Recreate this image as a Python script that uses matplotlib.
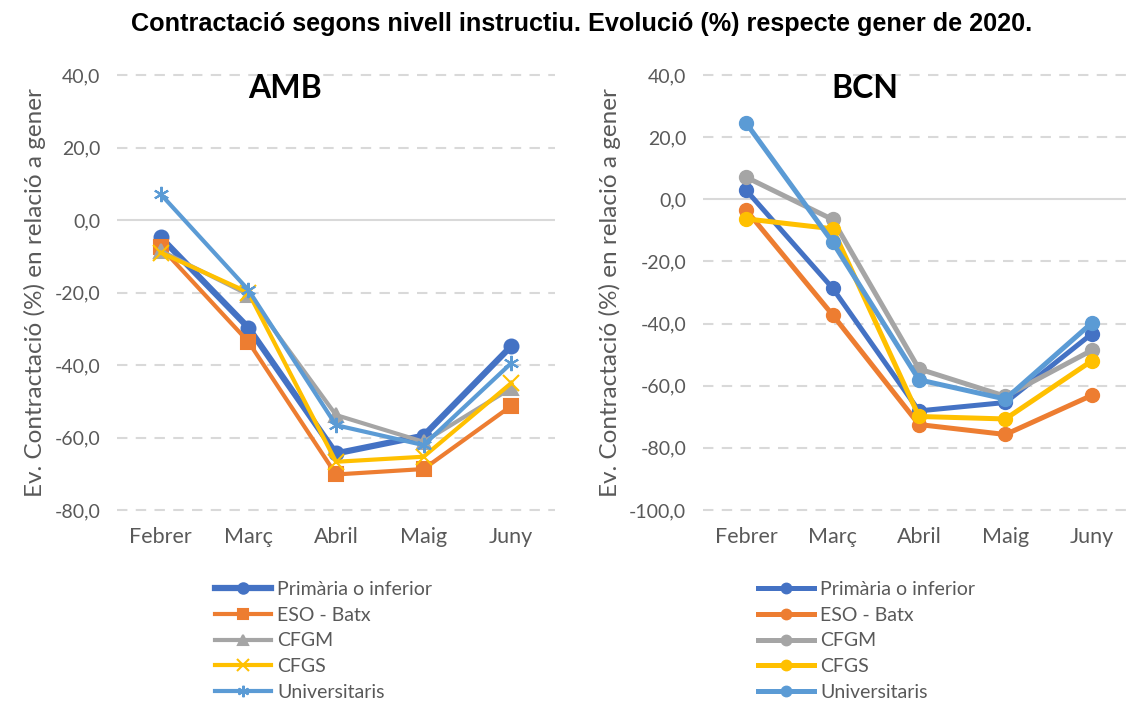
import numpy as np
import matplotlib
matplotlib.use("Agg")
import matplotlib.pyplot as plt
from matplotlib.ticker import FuncFormatter

plt.rcParams['font.family'] = ['Lato', 'DejaVu Sans']

mesos = ['Febrer', 'Març', 'Abril', 'Maig', 'Juny']
nivells = ['Primària o inferior', 'ESO - Batx', 'CFGM', 'CFGS', 'Universitaris']
colors = ['#4472C4', '#ED7D31', '#A5A5A5', '#FFC000', '#5B9BD5']

# AMB
amb_primaria = [-4.8, -29.7, -64.4, -59.5, -34.8]
amb_eso = [-7.5, -33.6, -70.2, -68.7, -51.3]
amb_cfgm = [-8.5, -20.6, -53.8, -61.2, -46.4]
amb_cfgs = [-9.0, -20.0, -66.7, -65.3, -45.0]
amb_univ = [7.1, -19.3, -56.6, -62.1, -39.5]

# BCN
bcn_primaria = [2.9, -28.6, -68.1, -65.4, -43.3]
bcn_eso = [-3.5, -37.2, -72.5, -75.7, -63.1]
bcn_cfgm = [7.1, -6.5, -54.6, -63.4, -48.6]
bcn_cfgs = [-6.3, -9.5, -69.9, -70.7, -52.0]
bcn_univ = [24.5, -13.8, -58.1, -64.3, -39.8]

amb = [amb_primaria, amb_eso, amb_cfgm, amb_cfgs, amb_univ]
bcn = [bcn_primaria, bcn_eso, bcn_cfgm, bcn_cfgs, bcn_univ]

fig = plt.figure(figsize=(11.26, 7.02), dpi=100)
ax1 = fig.add_axes([117 / 1126, 1 - 510 / 702, 438 / 1126, 435 / 702])
ax2 = fig.add_axes([703 / 1126, 1 - 510 / 702, 432 / 1126, 435 / 702])

txt_gray = '#595959'
fmt = FuncFormatter(lambda v, p: ('%.1f' % v).replace('.', ','))


def estil(ax, ymin, ymax):
    ax.set_xlim(-0.5, 4.5)
    ax.set_ylim(ymin, ymax)
    ax.set_yticks(np.arange(ymin, ymax + 1, 20))
    ax.yaxis.set_major_formatter(fmt)
    ax.set_xticks(range(len(mesos)))
    ax.set_xticklabels(mesos)
    for s in ax.spines.values():
        s.set_visible(False)
    ax.tick_params(length=0, labelsize=14, colors=txt_gray, pad=12)
    ax.tick_params(axis='x', pad=12, labelsize=15.5)
    for v in np.arange(ymin, ymax + 1, 20):
        if v == 0:
            ax.axhline(0, color='#D9D9D9', lw=1.5, zorder=0)
        else:
            ax.axhline(v, color='#D9D9D9', lw=1.5, ls=(0, (5, 4)), zorder=0, clip_on=False)
    ax.set_ylabel('Ev. Contractació (%) en relació a gener', fontsize=17.5, color=txt_gray, labelpad=6)


x = np.arange(len(mesos))
markers = ['o', 's', '^', 'x', (6, 2, 0)]
lws = [4.5, 3, 3, 3, 3]
for i in range(5):
    ax1.plot(x, amb[i], color=colors[i], lw=lws[i], marker=markers[i], ms=10 if i < 3 else 11,
             mew=1.5, label=nivells[i], zorder=3 + i)
for i in range(5):
    ax2.plot(x, bcn[i], color=colors[i], lw=3.6, marker='o', ms=10, label=nivells[i], zorder=3 + i)

estil(ax1, -80, 40)
estil(ax2, -100, 40)

fig.text(285 / 1126, 1 - 88 / 702, 'AMB', fontsize=23, fontweight='bold', ha='center', va='center')
fig.text(865 / 1126, 1 - 88 / 702, 'BCN', fontsize=23, fontweight='bold', ha='center', va='center')
fig.text(582 / 1126, 1 - 24 / 702,
         'Contractació segons nivell instructiu. Evolució (%) respecte gener de 2020.',
         fontsize=18.2, fontweight='bold', ha='center', va='center', family='Liberation Sans')

leg_kw = dict(loc='upper left', frameon=False, fontsize=14, handlelength=2.9,
              handletextpad=0.3, labelspacing=0.45, borderaxespad=0, borderpad=0, markerscale=0.75)
l1 = ax1.legend(bbox_to_anchor=(215 / 1126, 1 - 581 / 702), bbox_transform=fig.transFigure, **leg_kw)
l2 = ax2.legend(bbox_to_anchor=(758 / 1126, 1 - 581 / 702), bbox_transform=fig.transFigure, **leg_kw)
for l in (l1, l2):
    for t in l.get_texts():
        t.set_color(txt_gray)

fig.savefig('out.png', dpi=100)
